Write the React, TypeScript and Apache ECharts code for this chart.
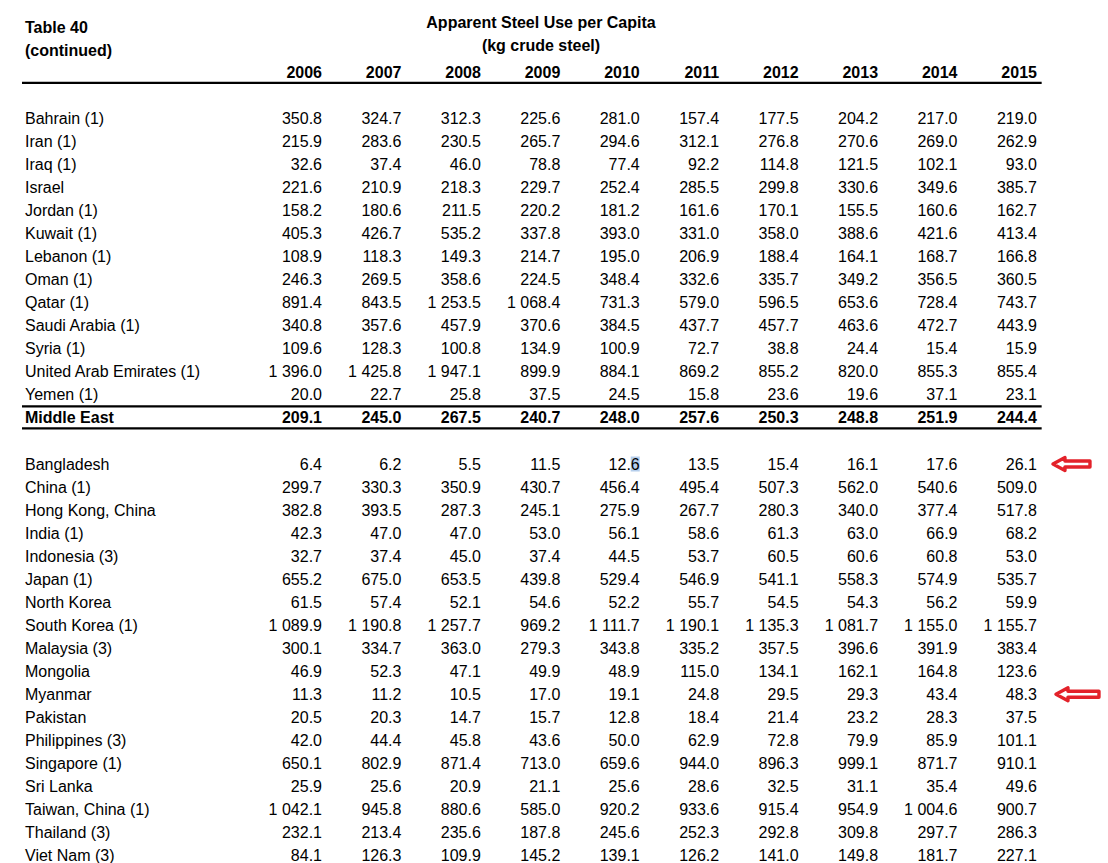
import React, { useEffect, useRef } from "react";
import * as echarts from "echarts";

// ---------- data ----------
const years = ["2006", "2007", "2008", "2009", "2010", "2011", "2012", "2013", "2014", "2015"];

const middleEastCountries = [
  "Bahrain (1)", "Iran (1)", "Iraq (1)", "Israel", "Jordan (1)", "Kuwait (1)", "Lebanon (1)",
  "Oman (1)", "Qatar (1)", "Saudi Arabia (1)", "Syria (1)", "United Arab Emirates (1)", "Yemen (1)",
];
const middleEastValues = [
  [350.8, 324.7, 312.3, 225.6, 281.0, 157.4, 177.5, 204.2, 217.0, 219.0],
  [215.9, 283.6, 230.5, 265.7, 294.6, 312.1, 276.8, 270.6, 269.0, 262.9],
  [32.6, 37.4, 46.0, 78.8, 77.4, 92.2, 114.8, 121.5, 102.1, 93.0],
  [221.6, 210.9, 218.3, 229.7, 252.4, 285.5, 299.8, 330.6, 349.6, 385.7],
  [158.2, 180.6, 211.5, 220.2, 181.2, 161.6, 170.1, 155.5, 160.6, 162.7],
  [405.3, 426.7, 535.2, 337.8, 393.0, 331.0, 358.0, 388.6, 421.6, 413.4],
  [108.9, 118.3, 149.3, 214.7, 195.0, 206.9, 188.4, 164.1, 168.7, 166.8],
  [246.3, 269.5, 358.6, 224.5, 348.4, 332.6, 335.7, 349.2, 356.5, 360.5],
  [891.4, 843.5, 1253.5, 1068.4, 731.3, 579.0, 596.5, 653.6, 728.4, 743.7],
  [340.8, 357.6, 457.9, 370.6, 384.5, 437.7, 457.7, 463.6, 472.7, 443.9],
  [109.6, 128.3, 100.8, 134.9, 100.9, 72.7, 38.8, 24.4, 15.4, 15.9],
  [1396.0, 1425.8, 1947.1, 899.9, 884.1, 869.2, 855.2, 820.0, 855.3, 855.4],
  [20.0, 22.7, 25.8, 37.5, 24.5, 15.8, 23.6, 19.6, 37.1, 23.1],
];
const middleEastTotalLabel = "Middle East";
const middleEastTotal = [209.1, 245.0, 267.5, 240.7, 248.0, 257.6, 250.3, 248.8, 251.9, 244.4];

const asiaCountries = [
  "Bangladesh", "China (1)", "Hong Kong, China", "India (1)", "Indonesia (3)", "Japan (1)",
  "North Korea", "South Korea (1)", "Malaysia (3)", "Mongolia", "Myanmar", "Pakistan",
  "Philippines (3)", "Singapore (1)", "Sri Lanka", "Taiwan, China (1)", "Thailand (3)", "Viet Nam (3)",
];
const asiaValues = [
  [6.4, 6.2, 5.5, 11.5, 12.6, 13.5, 15.4, 16.1, 17.6, 26.1],
  [299.7, 330.3, 350.9, 430.7, 456.4, 495.4, 507.3, 562.0, 540.6, 509.0],
  [382.8, 393.5, 287.3, 245.1, 275.9, 267.7, 280.3, 340.0, 377.4, 517.8],
  [42.3, 47.0, 47.0, 53.0, 56.1, 58.6, 61.3, 63.0, 66.9, 68.2],
  [32.7, 37.4, 45.0, 37.4, 44.5, 53.7, 60.5, 60.6, 60.8, 53.0],
  [655.2, 675.0, 653.5, 439.8, 529.4, 546.9, 541.1, 558.3, 574.9, 535.7],
  [61.5, 57.4, 52.1, 54.6, 52.2, 55.7, 54.5, 54.3, 56.2, 59.9],
  [1089.9, 1190.8, 1257.7, 969.2, 1111.7, 1190.1, 1135.3, 1081.7, 1155.0, 1155.7],
  [300.1, 334.7, 363.0, 279.3, 343.8, 335.2, 357.5, 396.6, 391.9, 383.4],
  [46.9, 52.3, 47.1, 49.9, 48.9, 115.0, 134.1, 162.1, 164.8, 123.6],
  [11.3, 11.2, 10.5, 17.0, 19.1, 24.8, 29.5, 29.3, 43.4, 48.3],
  [20.5, 20.3, 14.7, 15.7, 12.8, 18.4, 21.4, 23.2, 28.3, 37.5],
  [42.0, 44.4, 45.8, 43.6, 50.0, 62.9, 72.8, 79.9, 85.9, 101.1],
  [650.1, 802.9, 871.4, 713.0, 659.6, 944.0, 896.3, 999.1, 871.7, 910.1],
  [25.9, 25.6, 20.9, 21.1, 25.6, 28.6, 32.5, 31.1, 35.4, 49.6],
  [1042.1, 945.8, 880.6, 585.0, 920.2, 933.6, 915.4, 954.9, 1004.6, 900.7],
  [232.1, 213.4, 235.6, 187.8, 245.6, 252.3, 292.8, 309.8, 297.7, 286.3],
  [84.1, 126.3, 109.9, 145.2, 139.1, 126.2, 141.0, 149.8, 181.7, 227.1],
];
const markedCountries = ["Bangladesh", "Myanmar"];
const highlightedCell = { country: "Bangladesh", year: "2010" };

const tableTitle = ["Table 40", "(continued)"];
const chartTitle = ["Apparent Steel Use per Capita", "(kg crude steel)"];

// ---------- layout (row / column indices) ----------
const YEAR_ROW = 0;
const ME_FIRST_ROW = 2;
const ME_TOTAL_ROW = ME_FIRST_ROW + middleEastCountries.length; // 15
const ASIA_FIRST_ROW = ME_TOTAL_ROW + 2; // 17
const X_MIN = -4.0534;
const X_MAX = 9.8946;
const Y_MIN = -3.148;
const Y_MAX = 34.325;
const NAME_COL = -3.7387;
const LINE_START = -3.7765;
const LINE_END = 9.0595;
const ARROW_COLS = [9.1767, 9.2145];
const ARROW_LEN = [40, 46];
const FONT = '"Liberation Sans", Arial, Helvetica, sans-serif';

function fmt(v: number): string {
  const s = v.toFixed(1);
  const [ip, dp] = s.split(".");
  const withSpace = ip.replace(/\B(?=(\d{3})+(?!\d))/g, " ");
  return withSpace + "." + dp;
}

type Cell = { value: [number, number]; text: string; bold: boolean; align: "left" | "right" };

function buildCells(): Cell[] {
  const cells: Cell[] = [];
  years.forEach((y, c) => cells.push({ value: [c, YEAR_ROW], text: y, bold: true, align: "right" }));
  middleEastCountries.forEach((name, r) => {
    const row = ME_FIRST_ROW + r;
    cells.push({ value: [NAME_COL, row], text: name, bold: false, align: "left" });
    middleEastValues[r].forEach((v, c) => cells.push({ value: [c, row], text: fmt(v), bold: false, align: "right" }));
  });
  cells.push({ value: [NAME_COL, ME_TOTAL_ROW], text: middleEastTotalLabel, bold: true, align: "left" });
  middleEastTotal.forEach((v, c) => cells.push({ value: [c, ME_TOTAL_ROW], text: fmt(v), bold: true, align: "right" }));
  asiaCountries.forEach((name, r) => {
    const row = ASIA_FIRST_ROW + r;
    cells.push({ value: [NAME_COL, row], text: name, bold: false, align: "left" });
    asiaValues[r].forEach((v, c) => cells.push({ value: [c, row], text: fmt(v), bold: false, align: "right" }));
  });
  return cells;
}

export default function App() {
  const ref = useRef<HTMLDivElement>(null);
  useEffect(() => {
    if (!ref.current) return;
    const chart = echarts.init(ref.current, undefined, { renderer: "svg" });
    const cells = buildCells();
    const rules = [
      [LINE_START, YEAR_ROW + 0.45, LINE_END],
      [LINE_START, ME_TOTAL_ROW - 0.5, LINE_END],
      [LINE_START, ME_TOTAL_ROW + 0.45, LINE_END],
    ];
    const arrows = markedCountries.map((n, i) => [ARROW_COLS[i], ASIA_FIRST_ROW + asiaCountries.indexOf(n), ARROW_LEN[i]]);
    const hl = [[years.indexOf(highlightedCell.year), ASIA_FIRST_ROW + asiaCountries.indexOf(highlightedCell.country)]];

    const titleStyle = {
      fontFamily: FONT, fontSize: 16, fontWeight: "bold", fill: "#000",
      align: "center", textAlign: "center", verticalAlign: "middle", textVerticalAlign: "middle",
    };

    chart.setOption({
      animation: false,
      backgroundColor: "#ffffff",
      grid: { left: 0, top: 0, right: 0, bottom: 0, containLabel: false },
      xAxis: { type: "value", min: X_MIN, max: X_MAX, show: false, splitLine: { show: false } },
      yAxis: { type: "value", min: Y_MIN, max: Y_MAX, inverse: true, show: false, splitLine: { show: false } },
      graphic: [
        {
          type: "text", left: 25, top: 19,
          style: { text: tableTitle[0], fontFamily: FONT, fontSize: 16, fontWeight: "bold", fill: "#000" },
        },
        {
          type: "text", left: 25, top: 42,
          style: { text: tableTitle[1], fontFamily: FONT, fontSize: 16, fontWeight: "bold", fill: "#000" },
        },
        { type: "text", x: 541, y: 22, style: { ...titleStyle, text: chartTitle[0] } },
        { type: "text", x: 541, y: 45, style: { ...titleStyle, text: chartTitle[1] } },
      ],
      series: [
        {
          type: "custom",
          name: "selection",
          coordinateSystem: "cartesian2d",
          data: hl,
          silent: true,
          renderItem: (_p: any, api: any) => {
            const p = api.coord([api.value(0), api.value(1)]);
            return {
              type: "rect",
              shape: { x: p[0] - 9, y: p[1] - 7.5, width: 9, height: 15 },
              style: { fill: "rgba(120,165,220,0.55)" },
            };
          },
        },
        {
          type: "custom",
          name: "rules",
          coordinateSystem: "cartesian2d",
          data: rules,
          silent: true,
          renderItem: (_p: any, api: any) => {
            const a = api.coord([api.value(0), api.value(1)]);
            const b = api.coord([api.value(2), api.value(1)]);
            return {
              type: "line",
              shape: { x1: a[0], y1: a[1], x2: b[0], y2: b[1] },
              style: { stroke: "#000", lineWidth: 2.2 },
            };
          },
        },
        {
          type: "custom",
          name: "cells",
          coordinateSystem: "cartesian2d",
          data: cells.map((c) => c.value),
          silent: true,
          renderItem: (params: any, api: any) => {
            const cell = cells[params.dataIndex];
            const p = api.coord([api.value(0), api.value(1)]);
            return {
              type: "text",
              x: p[0],
              y: p[1],
              style: {
                text: cell.text,
                fontFamily: FONT,
                fontSize: 16,
                fontWeight: cell.bold ? "bold" : "normal",
                fill: "#000",
                align: cell.align,
                textAlign: cell.align,
                verticalAlign: "middle",
                textVerticalAlign: "middle",
              },
            };
          },
        },
        {
          type: "custom",
          name: "arrows",
          coordinateSystem: "cartesian2d",
          data: arrows,
          silent: true,
          renderItem: (_p: any, api: any) => {
            const p = api.coord([api.value(0), api.value(1)]);
            const len = api.value(2);
            const x = p[0] + 2;
            const y = p[1];
            return {
              type: "polygon",
              shape: {
                points: [
                  [x, y],
                  [x + 12, y - 6.5],
                  [x + 12, y - 3],
                  [x + len - 3, y - 3],
                  [x + len - 3, y + 3],
                  [x + 12, y + 3],
                  [x + 12, y + 6.5],
                ],
              },
              style: { fill: "#ffffff", stroke: "#e3222a", lineWidth: 3.4, lineJoin: "round" },
            };
          },
        },
      ],
    });
    return () => chart.dispose();
  }, []);

  return (
    <div
      ref={ref}
      style={{ position: "absolute", left: 0, top: 0, width: 1108, height: 863, background: "#fff" }}
    />
  );
}
